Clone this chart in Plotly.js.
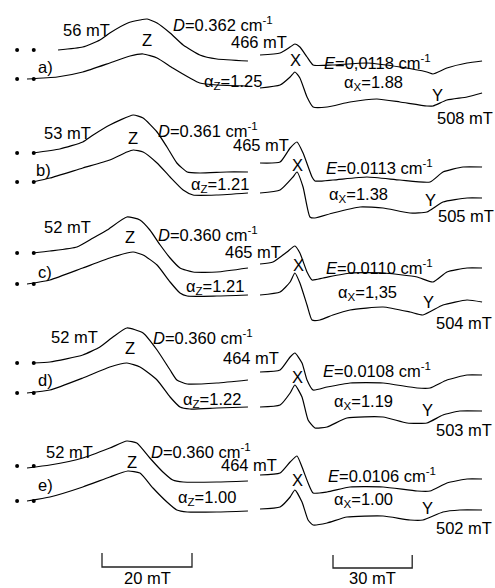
<!DOCTYPE html>
<html>
<head>
<meta charset="utf-8">
<script src="https://cdn.plot.ly/plotly-3.0.1.min.js"></script>
<style>html,body{margin:0;padding:0;background:#fff;}#chart{width:495px;height:588px;}</style>
</head>
<body>
<div id="chart"></div>
<script>
// ---------- DATA (field in mT, intensity in arbitrary units) ----------
// Left part (Z line), field scale 20 mT bar
const fieldL_a_up = [12.9,18.4,22.2,24.4,28.4,31.1,32.7,34.9,37.8,40.7,44.4,48.2,55.1];
const intL_a_up   = [0,3,10,17,27,30,31,27,17,5,-5,-9,-11];
const fieldL_a_lo = [6.0,12.7,18.4,24.4,28.9,31.8,34.9,38.4,42.2,44.4,48.2,55.1];
const intL_a_lo   = [0,2,7,16,23,25,21,11,1,-4,-6,-7];

const fieldL_b_up = [7.3,13.3,18.4,20.7,24.4,29.6,31.8,34.9,37.1,39.3,41.6,44.4,50.4,55.1];
const intL_b_up   = [0,4,11,18,28,38,35,21,6,-10,-19,-20,-19,-19];
const fieldL_b_lo = [7.3,11.1,18.4,24.4,28.2,29.6,31.8,34.9,37.8,40.7,42.9,48.2,55.1];
const intL_b_lo   = [0,4,14,22,30,32,30,19,5,-8,-13,-13,-11];

const fieldL_c_up = [7.3,11.1,17.1,20.7,23.8,28.2,31.1,33.3,35.6,37.8,40.0,42.9,48.2,55.1];
const intL_c_up   = [0,2,6,15,23,36,33,23,8,-5,-15,-19,-19,-15];
const fieldL_c_lo = [6.0,11.1,18.4,24.4,28.2,29.6,31.8,34.9,37.8,40.0,41.6,48.2,55.1];
const intL_c_lo   = [0,4,16,26,31,32,29,19,2,-9,-12,-12,-11];

const fieldL_d_up = [7.3,11.1,18.4,22.2,25.1,28.2,31.8,34.9,37.8,39.3,41.6,48.2,55.1];
const intL_d_up   = [0,1,8,16,26,35,30,13,-7,-17,-21,-20,-17];
const fieldL_d_lo = [6.0,11.1,18.4,24.4,28.2,31.1,34.9,37.8,40.0,42.2,48.2,55.1];
const intL_d_lo   = [0,3,15,26,30,26,13,-4,-14,-16,-15,-14];

const fieldL_e_up = [6.0,11.1,18.4,24.4,28.2,30.4,33.3,36.2,38.4,40.7,48.2,55.1];
const intL_e_up   = [-2,1,8,18,25,23,8,-6,-14,-16,-16,-15];
const fieldL_e_lo = [6.0,11.1,18.4,24.4,28.4,31.1,34.0,37.1,39.3,41.6,48.2,55.1];
const intL_e_lo   = [0,4,14,24,30,28,13,-1,-9,-11,-11,-10];

// Right part (X and Y lines), field scale 30 mT bar
const fieldR_a_up = [3.8,11.4,15.2,17.0,18.9,21.6,23.9,31.4,44.3,56.8,67.0,69.3,74.6,82.2,87.9];
const intR_a_up   = [0,2,8,11,8,-2,-10,-10,-8,-12,-17,-19,-13,-8,-6];
const fieldR_a_lo = [3.8,11.4,15.2,17.0,18.9,21.6,23.9,29.2,37.9,48.1,56.8,67.0,69.3,74.6,82.2,87.9];
const intR_a_lo   = [0,3,11,16,10,-9,-19,-19,-14,-11,-14,-18,-18,-12,-9,-5];

const fieldR_b_up = [3.8,11.4,15.2,17.8,20.1,23.5,24.6,31.4,44.3,56.8,68.2,73.1,80.7,87.9];
const intR_b_up   = [0,1,15,21,10,-14,-18,-17,-14,-17,-19,-9,-4,-4];
const fieldR_b_lo = [3.8,11.4,16.3,17.8,20.1,22.7,24.6,31.4,41.7,50.4,60.6,67.0,73.1,82.2,87.9];
const intR_b_lo   = [0,3,16,21,6,-24,-25,-20,-14,-15,-20,-19,-9,-5,-5];

const fieldR_c_up = [3.8,8.7,14.0,17.0,18.9,21.6,23.5,27.7,37.9,50.4,63.3,69.3,74.6,82.2,87.9];
const intR_c_up   = [0,2,12,18,11,-8,-16,-14,-9,-9,-13,-18,-8,-4,-4];
const fieldR_c_lo = [3.8,11.4,15.2,17.0,18.9,21.6,23.5,26.5,31.4,37.9,50.4,60.6,65.5,73.1,82.2,87.9];
const intR_c_lo   = [0,3,13,22,12,-10,-25,-25,-20,-15,-12,-17,-20,-10,-5,-7];

const fieldR_d_up = [3.8,11.4,15.2,17.0,19.7,21.6,23.9,29.2,37.9,50.4,63.3,68.2,74.6,82.2,87.9];
const intR_d_up   = [0,2,15,19,9,-8,-18,-15,-11,-11,-16,-16,-8,-3,-3];
const fieldR_d_lo = [3.8,11.4,15.2,17.0,19.7,22.0,24.6,29.2,36.7,50.4,59.5,67.0,73.1,79.5,87.9];
const intR_d_lo   = [0,2,14,22,10,-13,-21,-20,-11,-10,-16,-16,-8,-4,-4];

const fieldR_e_up = [3.8,11.4,15.2,17.8,19.7,22.0,23.9,29.2,37.9,50.4,63.3,68.2,74.6,82.2,87.9];
const intR_e_up   = [0,2,13,19,8,-8,-18,-17,-12,-12,-16,-16,-8,-4,-4];
const fieldR_e_lo = [3.8,11.4,15.2,17.0,19.7,22.0,23.9,29.2,36.7,50.4,60.6,65.5,73.1,79.5,87.9];
const intR_e_lo   = [0,2,12,19,7,-11,-16,-14,-8,-7,-11,-11,-3,-1,-1];

// field markers (dots) on the left
const markerField = [3.8, 7.5];

// text values
const panelLabels = ['a)','b)','c)','d)','e)'];
const startLeft   = ['56 mT','53 mT','52 mT','52 mT','52 mT'];
const startRight  = ['466 mT','465 mT','465 mT','464 mT','464 mT'];
const endRight    = ['508 mT','505 mT','504 mT','503 mT','502 mT'];
const dValues     = ['0.362','0.361','0.360','0.360','0.360'];
const eValues     = ['0,0118','0.0113','0.0110','0.0108','0.0106'];
const alphaZ      = ['1.25','1.21','1.21','1.22','1.00'];
const alphaX      = ['1.88','1.38','1,35','1.19','1.00'];
const scaleBarL   = 20; // mT
const scaleBarR   = 30; // mT

// ---------- LAYOUT / POSITIONS ----------
const W = 495, H = 588;
const splitPx = 250;
const pxPerMT_L = 4.5, pxPerMT_R = 2.64;
const rangeL = [0, splitPx / pxPerMT_L];
const rangeR = [0, (W - splitPx) / pxPerMT_R];

// vertical baselines of each trace (px from top)
const baseLU = [50,153,253,363,466];
const baseLL = [79,182,284,393,501];
const baseRU = [55,163,264,372,475];
const baseRL = [88,193,295,407,509];

const left = [
  [fieldL_a_up,intL_a_up,fieldL_a_lo,intL_a_lo],
  [fieldL_b_up,intL_b_up,fieldL_b_lo,intL_b_lo],
  [fieldL_c_up,intL_c_up,fieldL_c_lo,intL_c_lo],
  [fieldL_d_up,intL_d_up,fieldL_d_lo,intL_d_lo],
  [fieldL_e_up,intL_e_up,fieldL_e_lo,intL_e_lo]
];
const right = [
  [fieldR_a_up,intR_a_up,fieldR_a_lo,intR_a_lo],
  [fieldR_b_up,intR_b_up,fieldR_b_lo,intR_b_lo],
  [fieldR_c_up,intR_c_up,fieldR_c_lo,intR_c_lo],
  [fieldR_d_up,intR_d_up,fieldR_d_lo,intR_d_lo],
  [fieldR_e_up,intR_e_up,fieldR_e_lo,intR_e_lo]
];

const lineStyle = {color:'#000', width:1.2, shape:'spline', smoothing:0.5};
const traces = [];
function addTrace(xs, ys, base, xa){
  traces.push({type:'scatter', mode:'lines', x:xs, y:ys.map(v => v - base),
    xaxis:xa, yaxis:'y', line:lineStyle, hoverinfo:'skip'});
}
for (let i=0;i<5;i++){
  addTrace(left[i][0], left[i][1], baseLU[i], 'x');
  addTrace(left[i][2], left[i][3], baseLL[i], 'x');
  addTrace(right[i][0], right[i][1], baseRU[i], 'x2');
  addTrace(right[i][2], right[i][3], baseRL[i], 'x2');
  [baseLU[i], baseLL[i]].forEach(b => {
    traces.push({type:'scatter', mode:'markers', x:markerField, y:markerField.map(()=>-b),
      xaxis:'x', yaxis:'y', marker:{color:'#000', size:4}, hoverinfo:'skip'});
  });
}

const FONT = {family:'Arial, "Liberation Sans", sans-serif', size:16.5, color:'#000'};
const anns = [];
function ann(text, x, y, xanchor){
  anns.push({text, x:x/W, y:1-y/H, xref:'paper', yref:'paper', xanchor:xanchor||'left',
    yanchor:'middle', showarrow:false, font:FONT, borderpad:0});
}
const posStartL = [[62,30],[43,133],[43,227],[50,337],[45,452]];
const posZ      = [[147,40],[133,138],[130,237],[130,348],[132,462]];
const posD      = [[172,24],[157,130],[157,234],[152,337],[150,451]];
const posStartR = [[288,42],[290,145],[282,252],[280,358],[278,465]];
const posLetter = [[37,67],[35,170],[37,272],[37,380],[37,485]];
const posAZ     = [[203,82],[190,185],[185,287],[182,400],[177,498]];
const posX      = [[295,60],[297,165],[298,265],[297,377],[297,480]];
const posE      = [[323,62],[325,167],[325,267],[322,370],[327,475]];
const posAX     = [[343,83],[328,195],[337,293],[333,402],[333,500]];
const posY      = [[437,95],[430,200],[428,302],[427,410],[427,508]];
const posEndR   = [[494,118],[495,216],[493,323],[493,430],[493,528]];

for (let i=0;i<5;i++){
  ann(startLeft[i], posStartL[i][0], posStartL[i][1]);
  ann('Z', posZ[i][0], posZ[i][1], 'center');
  ann('<i>D</i>='+dValues[i]+' cm<sup>-1</sup>', posD[i][0], posD[i][1]);
  ann(startRight[i], posStartR[i][0], posStartR[i][1], 'right');
  ann(panelLabels[i], posLetter[i][0], posLetter[i][1]);
  ann('α<sub>Z</sub>='+alphaZ[i], posAZ[i][0], posAZ[i][1]);
  ann('X', posX[i][0], posX[i][1], 'center');
  ann('<i>E</i>='+eValues[i]+' cm<sup>-1</sup>', posE[i][0], posE[i][1]);
  ann('α<sub>X</sub>='+alphaX[i], posAX[i][0], posAX[i][1]);
  ann('Y', posY[i][0], posY[i][1], 'center');
  ann(endRight[i], posEndR[i][0], posEndR[i][1], 'right');
}

// scale bars (drawn in field units on each axis)
const barL0 = 102 / pxPerMT_L, barR0 = (333 - splitPx) / pxPerMT_R;
const shapes = [
  {type:'path', xref:'x', yref:'y',
   path:`M ${barL0},-553 L ${barL0},-567 L ${barL0+scaleBarL},-567 L ${barL0+scaleBarL},-553`,
   line:{color:'#222', width:1.3}},
  {type:'path', xref:'x2', yref:'y',
   path:`M ${barR0},-555 L ${barR0},-568 L ${barR0+scaleBarR},-568 L ${barR0+scaleBarR},-555`,
   line:{color:'#222', width:1.3}}
];
anns.push({text:scaleBarL+' mT', x:barL0+scaleBarL/2, y:-578, xref:'x', yref:'y',
  xanchor:'center', yanchor:'middle', showarrow:false, font:FONT});
anns.push({text:scaleBarR+' mT', x:barR0+scaleBarR/2, y:-578, xref:'x2', yref:'y',
  xanchor:'center', yanchor:'middle', showarrow:false, font:FONT});

const layout = {
  width:W, height:H, margin:{l:0,r:0,t:0,b:0}, paper_bgcolor:'#fff', plot_bgcolor:'#fff',
  showlegend:false,
  xaxis:{domain:[0, splitPx/W], range:rangeL, visible:false, fixedrange:true},
  xaxis2:{domain:[splitPx/W, 1], range:rangeR, visible:false, anchor:'y', fixedrange:true},
  yaxis:{range:[-H, 0], visible:false, fixedrange:true},
  annotations:anns, shapes:shapes
};
Plotly.newPlot('chart', traces, layout, {displayModeBar:false, staticPlot:true});
</script>
</body>
</html>
